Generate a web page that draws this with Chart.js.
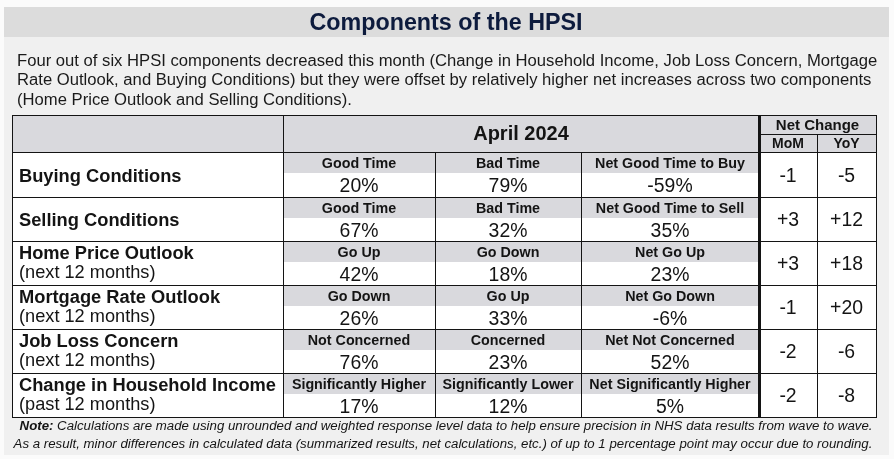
<!DOCTYPE html>
<html>
<head>
<meta charset="utf-8">
<script src="https://cdn.jsdelivr.net/npm/chart.js@4.4.1/dist/chart.umd.min.js"></script>
<style>
  html, body { margin: 0; padding: 0; background: #fbfbfb; }
  canvas { display: block; }
</style>
</head>
<body>
<canvas id="tableChart" width="894" height="459"></canvas>
<script>
// Table content
const title = 'Components of the HPSI';
const intro = [
  'Four out of six HPSI components decreased this month (Change in Household Income, Job Loss Concern, Mortgage',
  'Rate Outlook, and Buying Conditions) but they were offset by relatively higher net increases across two components',
  '(Home Price Outlook and Selling Conditions).'
];
const period = 'April 2024';
const netHeader = 'Net Change';
const netCols = ['MoM', 'YoY'];
const components = ['Buying Conditions', 'Selling Conditions', 'Home Price Outlook',
  'Mortgage Rate Outlook', 'Job Loss Concern', 'Change in Household Income'];
const horizons = ['', '', '(next 12 months)', '(next 12 months)', '(next 12 months)', '(past 12 months)'];
const answerLabels = [
  ['Good Time', 'Bad Time', 'Net Good Time to Buy'],
  ['Good Time', 'Bad Time', 'Net Good Time to Sell'],
  ['Go Up', 'Go Down', 'Net Go Up'],
  ['Go Down', 'Go Up', 'Net Go Down'],
  ['Not Concerned', 'Concerned', 'Net Not Concerned'],
  ['Significantly Higher', 'Significantly Lower', 'Net Significantly Higher']
];
const answerValues = [[20, 79, -59], [67, 32, 35], [42, 18, 23], [26, 33, -6], [76, 23, 52], [17, 12, 5]];
const momChange = [-1, 3, 3, -1, -2, -2];
const yoyChange = [-5, 12, 18, 20, -6, -8];
const noteLead = 'Note:';
const noteLines = [
  ' Calculations are made using unrounded and weighted response level data to help ensure precision in NHS data results from wave to wave.',
  'As a result, minor differences in calculated data (summarized results, net calculations, etc.) of up to 1 percentage point may occur due to rounding.'
];

// Grid layout in table units (mapped through the chart scales)
const layout = {
  cols: [12, 283, 435, 581, 759, 817, 876],
  rows: [115, 152, 197, 241, 285, 329, 373, 417],
  netSplit: 134
};

const FONT = '"Liberation Sans", Arial, sans-serif';
const INK = '#141414';
const BAND = '#d9d9dd';

function signed(v) { return v > 0 ? '+' + v : String(v); }

const tablePlugin = {
  id: 'hpsiTable',
  beforeDraw(chart) {
    const ctx = chart.ctx;
    const xs = chart.scales.x, ys = chart.scales.y;
    const X = v => xs.getPixelForValue(v);
    const Y = v => ys.getPixelForValue(v);
    const rect = (x0, y0, x1, y1, color) => {
      ctx.fillStyle = color;
      ctx.fillRect(X(x0), Y(y0), X(x1) - X(x0), Y(y1) - Y(y0));
    };
    const hLine = (x0, x1, y, w) => {
      ctx.fillStyle = INK;
      ctx.fillRect(X(x0), Math.round(Y(y)), X(x1) - X(x0) + 1, w || 1);
    };
    const vLine = (x, y0, y1, w) => {
      ctx.fillStyle = INK;
      ctx.fillRect(Math.round(X(x)), Y(y0), w || 1, Y(y1) - Y(y0) + 1);
    };
    const text = (s, x, y, font, align, color) => {
      ctx.font = font;
      ctx.textAlign = align || 'center';
      ctx.textBaseline = 'alphabetic';
      ctx.fillStyle = color || INK;
      ctx.fillText(s, X(x), Y(y));
    };
    const { cols, rows } = layout;

    ctx.save();
    // panel and title band
    rect(4, 7, 889, 455, '#f0f0f0');
    rect(4, 7, 889, 37, '#dcdcdc');
    text(title, 446, 30, 'bold 23.3px ' + FONT, 'center', '#0d1b3d');
    intro.forEach((line, i) => text(line, 17, 66 + i * 19.3, '16.65px ' + FONT, 'left', '#1a1a1a'));

    // table backgrounds
    rect(cols[0], rows[0], cols[6], rows[7], '#ffffff');
    rect(cols[0], rows[0], cols[6], rows[1], BAND);
    for (let r = 0; r < components.length; r++) {
      rect(cols[1], rows[r + 1] + 1, cols[4], rows[r + 1] + 21, BAND);
    }

    // grid lines
    rows.forEach(y => hLine(cols[0], cols[6], y));
    hLine(cols[4], cols[6], layout.netSplit);
    vLine(cols[0], rows[0], rows[7]);
    vLine(cols[1], rows[0], rows[7]);
    vLine(cols[2], rows[1], rows[7]);
    vLine(cols[3], rows[1], rows[7]);
    vLine(cols[4] - 1, rows[0], rows[7], 3);
    vLine(cols[5], layout.netSplit, rows[7]);
    vLine(cols[6], rows[0], rows[7]);

    // header text
    text(period, (cols[1] + cols[4]) / 2, 140, 'bold 20px ' + FONT);
    text(netHeader, (cols[4] + cols[6]) / 2, 130, 'bold 15px ' + FONT);
    netCols.forEach((s, i) => text(s, (cols[4 + i] + cols[5 + i]) / 2, 148, 'bold 14px ' + FONT));

    // body text
    components.forEach((name, r) => {
      const top = rows[r + 1], bot = rows[r + 2], mid = (top + bot) / 2;
      if (horizons[r]) {
        text(name, 19, top + 17.5, 'bold 18.3px ' + FONT, 'left');
        text(horizons[r], 19, top + 37, '18.2px ' + FONT, 'left');
      } else {
        text(name, 19, mid + 7, 'bold 18.3px ' + FONT, 'left');
      }
      for (let c = 0; c < 3; c++) {
        const cx = (cols[1 + c] + cols[2 + c]) / 2;
        text(answerLabels[r][c], cx, top + 15.5, 'bold 14.3px ' + FONT);
        text(answerValues[r][c] + '%', cx, top + 40, '19.4px ' + FONT);
      }
      text(signed(momChange[r]), (cols[4] + cols[5]) / 2, mid + 7, '19.4px ' + FONT);
      text(signed(yoyChange[r]), (cols[5] + cols[6]) / 2, mid + 7, '19.4px ' + FONT);
    });

    // notes
    const noteSize = '13.25px ';
    ctx.font = 'italic bold ' + noteSize + FONT;
    const leadW = ctx.measureText(noteLead).width;
    ctx.font = 'italic ' + noteSize + FONT;
    const restW = ctx.measureText(noteLines[0]).width;
    const startX = 446 - (leadW + restW) / 2;
    text(noteLead, startX, 430, 'italic bold ' + noteSize + FONT, 'left');
    text(noteLines[0], startX + leadW, 430, 'italic ' + noteSize + FONT, 'left');
    text(noteLines[1], 443, 448, 'italic ' + noteSize + FONT, 'center');
    ctx.restore();
  }
};

new Chart(document.getElementById('tableChart'), {
  type: 'scatter',
  data: { datasets: [] },
  options: {
    responsive: false,
    animation: false,
    layout: { padding: 0 },
    plugins: { legend: { display: false }, tooltip: { enabled: false }, title: { display: false } },
    scales: {
      x: { type: 'linear', min: 0, max: 894, display: false },
      y: { type: 'linear', min: 0, max: 459, reverse: true, display: false }
    }
  },
  plugins: [tablePlugin]
});
</script>
</body>
</html>
